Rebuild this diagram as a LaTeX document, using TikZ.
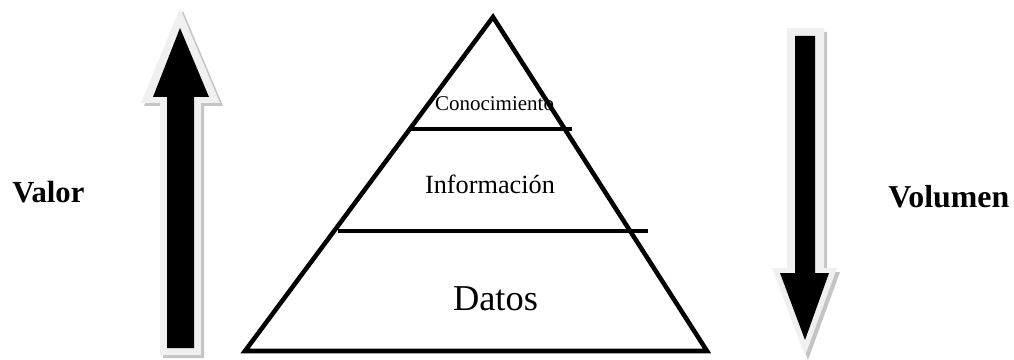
\documentclass[tikz,border=0pt]{standalone}
\usepackage{fontspec}
\setmainfont{Liberation Serif}
\definecolor{arrowrim}{HTML}{F0F0F0}
\definecolor{arrowshade}{HTML}{C4C4C4}
\begin{document}
\begin{tikzpicture}[x=0.75pt,y=-0.75pt,
  layer/.style={line width=3.4pt,line join=miter},
  label/.style={inner sep=0pt,anchor=base},
  rim/.style={fill=arrowrim},
  shade/.style={fill=arrowshade},
  core/.style={fill=black}]
\useasboundingbox (0,0) rectangle (1014,360);

% pyramid outline and its two dividing lines
\coordinate (apex) at (493,17);
\coordinate (bl) at (245,351);
\coordinate (br) at (707,351);
\draw[layer] (apex) -- (br) -- (bl) -- cycle;
\coordinate (d1l) at (408,129);
\coordinate (d1r) at (572,129);
\coordinate (d2l) at (338,231);
\coordinate (d2r) at (648,231);
\draw[layer] (d1l) -- (d1r);
\draw[layer] (d2l) -- (d2r);

% level labels
\node[label] (conoc) at (494.5,110) {\fontsize{15.75}{18}\selectfont Conocimiento};
\node[label] (info) at (490,193) {\fontsize{19.7}{22}\selectfont Información};
\node[label] (datos) at (495.5,310) {\fontsize{27.3}{30}\selectfont Datos};

% side labels
\node[label,anchor=base west] (valor) at (12,202) {\fontsize{23}{26}\selectfont\bfseries Valor};
\node[label,anchor=base west] (volumen) at (888,207) {\fontsize{23.9}{27}\selectfont\bfseries Volumen};

% upward arrow (value)
\begin{scope}[shift={(3,3)}]
  \fill[shade] (180,8) -- (220,103) -- (201,103) -- (201,355) -- (160,355) -- (160,103) -- (141,103) -- cycle;
\end{scope}
\fill[rim] (180,8) -- (220,103) -- (201,103) -- (201,355) -- (160,355) -- (160,103) -- (141,103) -- cycle;
\fill[core] (180,28) -- (209,97) -- (194,97) -- (194,348) -- (167,348) -- (167,97) -- (153,97) -- cycle;

% downward arrow (volume)
\begin{scope}[shift={(3,4)}]
  \fill[shade] (805,356) -- (837,268) -- (824,268) -- (824,28) -- (787,28) -- (787,268) -- (772,268) -- cycle;
\end{scope}
\fill[rim] (805,356) -- (837,268) -- (824,268) -- (824,28) -- (787,28) -- (787,268) -- (772,268) -- cycle;
\fill[core] (805,340) -- (829,273) -- (815,273) -- (815,36) -- (795,36) -- (795,273) -- (780,273) -- cycle;
\end{tikzpicture}
\end{document}
